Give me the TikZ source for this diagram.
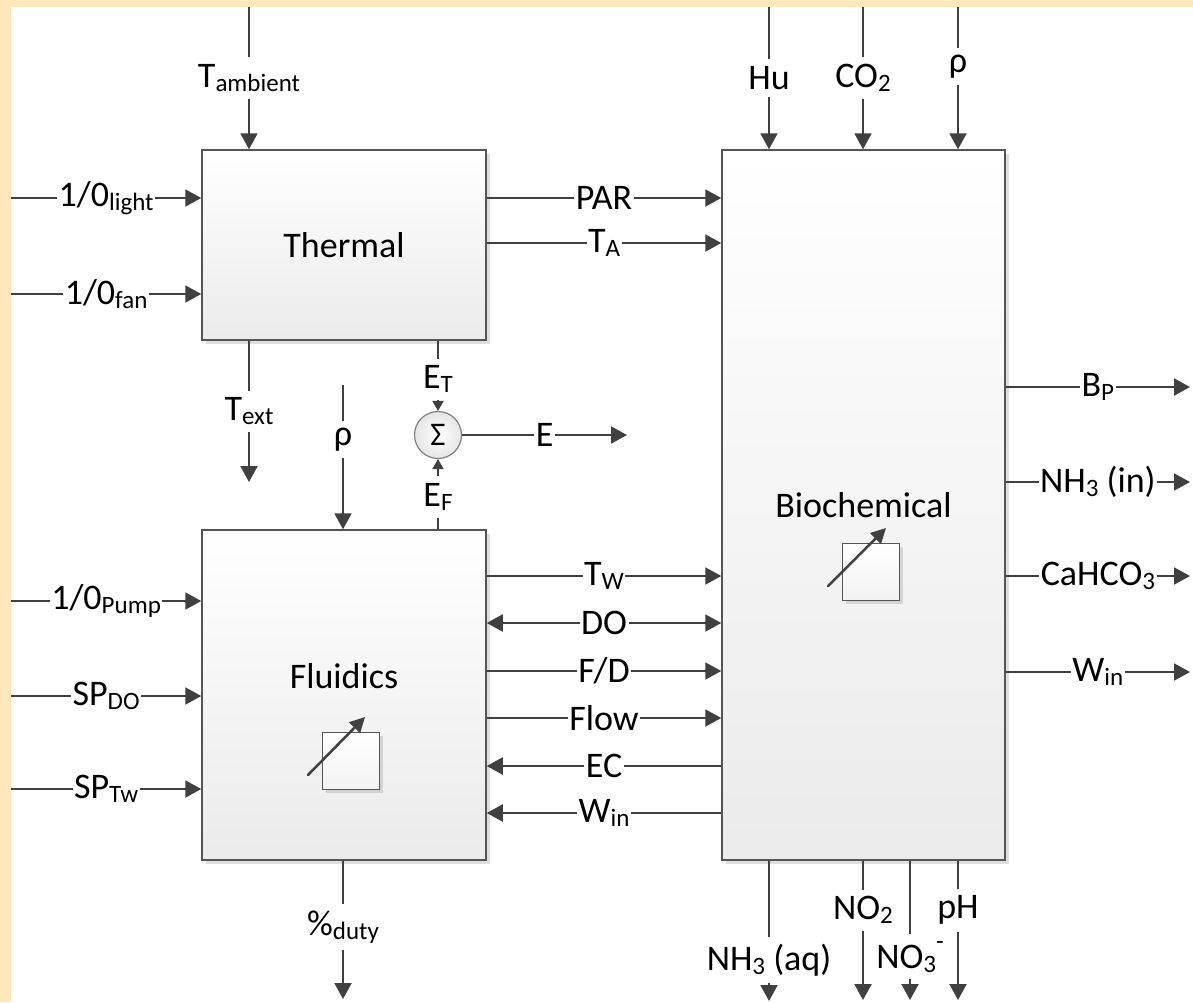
\documentclass[tikz,border=0pt]{standalone}
\usepackage{fontspec}
\setmainfont{Carlito}
\usetikzlibrary{arrows.meta,shadows}
\definecolor{cream}{RGB}{255,231,188}
\definecolor{ln}{RGB}{64,64,64}
\definecolor{bd}{RGB}{85,85,85}
\newcommand\sbs[1]{\raisebox{-4pt}{\fontsize{25}{27}\selectfont #1}}
\newcommand\sps[1]{\raisebox{19pt}{\fontsize{25}{27}\selectfont #1}}
\begin{document}
\begin{tikzpicture}[x=1pt,y=-1pt,
  every node/.style={font=\fontsize{36}{40}\selectfont, text=black},
  blk/.style={draw=bd, line width=1.5pt, top color=white, bottom color=black!8,
    drop shadow={shadow xshift=4pt,shadow yshift=-4pt,opacity=0.13,fill=black}},
  icon/.style={draw=bd, line width=1.3pt, top color=white, bottom color=black!5,
    minimum size=57pt, inner sep=0pt, anchor=north west,
    drop shadow={shadow xshift=3pt,shadow yshift=-3pt,opacity=0.12,fill=black}},
  arr/.style={draw=ln, line width=2pt, -{Triangle[length=16pt,width=17pt]}},
  darr/.style={draw=ln, line width=2pt, {Triangle[length=16pt,width=17pt]}-{Triangle[length=16pt,width=17pt]}},
  rarr/.style={draw=ln, line width=2pt, {Triangle[length=16pt,width=17pt]}-},
  sarr/.style={draw=ln, line width=2pt, -{Triangle[length=10pt,width=11pt]}},
  iarr/.style={draw=ln, line width=2.5pt, line cap=round, -{Triangle[length=15pt,width=15pt]}},
  hl/.style={fill=white, inner xsep=1.5pt, inner ysep=1pt},
  vl/.style={fill=white, inner xsep=2pt, inner ysep=7pt},
]
\useasboundingbox (0,0) rectangle (1193,1002);
\fill[cream] (0,0) rectangle (1193,1002);
\fill[white] (11,7) rectangle (1193,1002);

% blocks
\node[blk, minimum width=284pt, minimum height=190pt] (thermal) at (344,245) {Thermal};
\node[blk, minimum width=284pt, minimum height=330pt, text depth=38pt] (fluid) at (344,695) {Fluidics};
\node[blk, minimum width=283pt, minimum height=710pt] (bio) at (863.5,505) {Biochemical};

% icons
\node[icon] (ficon) at (322,732) {};
\draw[iarr] (308,775) -- (365,717);
\node[icon] (bicon) at (842,543) {};
\draw[iarr] (828,586) -- (886,528);

% sigma
\node[circle, draw=black!50, line width=1.2pt, inner color=white, outer color=black!10,
  minimum size=47pt, inner sep=0pt, font=\fontsize{33}{35}\selectfont] (sigma) at (438,435) {Σ};

% Thermal inputs
\coordinate (tambS) at (249,7);
\draw[arr] (tambS) -- node[vl] (lTamb) {T\sbs{ambient}} (tambS |- thermal.north);
\coordinate (lightS) at (11,198);
\draw[arr] (lightS) -- node[hl] (lLight) {1/0\sbs{light}} (lightS -| thermal.west);
\coordinate (fanS) at (11,294);
\draw[arr] (fanS) -- node[hl] (lFan) {1/0\sbs{fan}} (fanS -| thermal.west);

% Thermal outputs
\draw[arr] (thermal.east |- 0,198) -- node[hl] (lPAR) {PAR} (bio.west |- 0,198);
\draw[arr] (thermal.east |- 0,243) -- node[hl] (lTA) {T\sbs{A}} (bio.west |- 0,243);
\coordinate (textE) at (249,482);
\draw[arr] (thermal.south -| textE) -- node[vl] (lText) {T\sbs{ext}} (textE);

% energy
\draw[sarr] (thermal.south -| sigma) -- node[vl, pos=0.55] (lET) {E\sbs{T}} (sigma.north);
\draw[sarr] (fluid.north -| sigma) -- node[vl, pos=0.46] (lEF) {E\sbs{F}} (sigma.south);
\coordinate (eE) at (627,435);
\draw[arr] (sigma.east) -- node[hl] (lE) {E} (eE);

% Fluidics inputs
\coordinate (rhoS) at (343,385);
\draw[arr] (rhoS) -- node[vl, pos=0.38] (lRho) {ρ} (rhoS |- fluid.north);
\coordinate (pumpS) at (11,601);
\draw[arr] (pumpS) -- node[hl] (lPump) {1/0\sbs{Pump}} (pumpS -| fluid.west);
\coordinate (spdoS) at (11,696);
\draw[arr] (spdoS) -- node[hl] (lSPDO) {SP\sbs{DO}} (spdoS -| fluid.west);
\coordinate (sptwS) at (11,789);
\draw[arr] (sptwS) -- node[hl] (lSPTw) {SP\sbs{Tw}} (sptwS -| fluid.west);

% Fluidics <-> Biochemical
\draw[arr] (fluid.east |- 0,576) -- node[hl] (lTW) {T\sbs{W}} (bio.west |- 0,576);
\draw[darr] (fluid.east |- 0,623) -- node[hl] (lDO) {DO} (bio.west |- 0,623);
\draw[arr] (fluid.east |- 0,671) -- node[hl] (lFD) {F/D} (bio.west |- 0,671);
\draw[arr] (fluid.east |- 0,718) -- node[hl] (lFlow) {Flow} (bio.west |- 0,718);
\draw[rarr] (fluid.east |- 0,766) -- node[hl] (lEC) {EC} (bio.west |- 0,766);
\draw[rarr] (fluid.east |- 0,813) -- node[hl] (lWin) {W\sbs{in}} (bio.west |- 0,813);

% Fluidics output
\coordinate (dutyE) at (343,999);
\draw[arr] (fluid.south -| dutyE) -- node[vl, pos=0.48] (lDuty) {\%\sbs{duty}} (dutyE);

% Biochemical inputs
\coordinate (huS) at (769,7);
\draw[arr] (huS) -- node[vl] (lHu) {Hu} (huS |- bio.north);
\coordinate (co2S) at (863,7);
\draw[arr] (co2S) -- node[vl] (lCO2) {CO\sbs{2}} (co2S |- bio.north);
\coordinate (rhoBS) at (958,7);
\draw[arr] (rhoBS) -- node[vl, pos=0.42] (lRhoB) {ρ} (rhoBS |- bio.north);

% Biochemical outputs right
\coordinate (bpE) at (1190,387);
\draw[arr] (bio.east |- bpE) -- node[hl] (lBP) {B\sbs{P}} (bpE);
\coordinate (nh3inE) at (1190,482);
\draw[arr] (bio.east |- nh3inE) -- node[hl] (lNH3in) {NH\sbs{3} (in)} (nh3inE);
\coordinate (cahco3E) at (1190,576);
\draw[arr] (bio.east |- cahco3E) -- node[hl] (lCa) {CaHCO\sbs{3}} (cahco3E);
\coordinate (winE) at (1190,672);
\draw[arr] (bio.east |- winE) -- node[hl] (lWinB) {W\sbs{in}} (winE);

% Biochemical outputs bottom
\coordinate (nh3aqE) at (769,1001);
\draw[arr] (bio.south -| nh3aqE) -- node[vl, pos=0.71] (lNH3aq) {NH\sbs{3} (aq)} (nh3aqE);
\coordinate (no2E) at (863,1000);
\draw[arr] (bio.south -| no2E) -- node[vl, pos=0.355] (lNO2) {NO\sbs{2}} (no2E);
\coordinate (no3E) at (910,1000);
\draw[arr] (bio.south -| no3E) -- node[vl, pos=0.69] (lNO3) {NO\sbs{3}\sps{-}} (no3E);
\coordinate (phE) at (958,1000);
\draw[arr] (bio.south -| phE) -- node[vl, pos=0.355] (lpH) {pH} (phE);
\end{tikzpicture}
\end{document}
